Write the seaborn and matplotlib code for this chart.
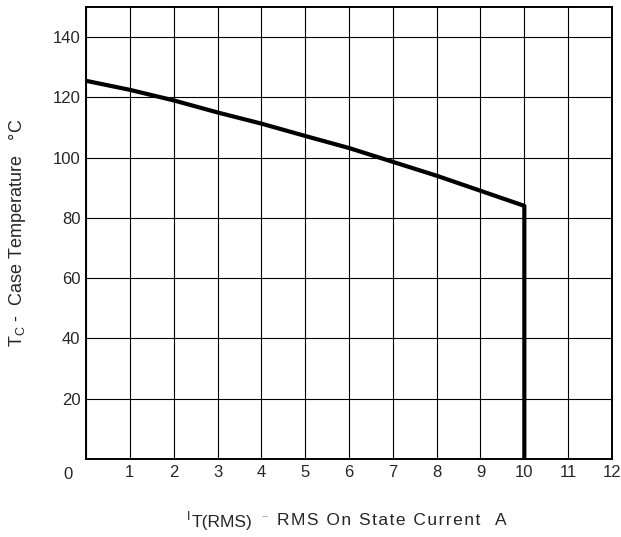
import matplotlib
matplotlib.use("Agg")
import matplotlib.pyplot as plt
import seaborn as sns
import pandas as pd

# curve (ends with the vertical drop at 10 A)
current = [0, 1, 2, 3, 4, 5, 6, 7, 8, 9, 10, 10]
case_temp = [125.5, 122.5, 119, 115, 111.3, 107.2, 103.2, 98.6, 94, 89, 84, 0]

x_ticks = list(range(1, 13))
y_ticks = [20, 40, 60, 80, 100, 120, 140]

df = pd.DataFrame({"I": current, "Tc": case_temp})

sns.set_style("white")
plt.rcParams["font.family"] = ["Liberation Sans", "DejaVu Sans"]

W, H = 621, 537


def spaced(s, gap="\u200a"):
    # slightly wider letter spacing like the printed datasheet
    return gap.join(s)


def px_text(x, y, s, **kw):
    # place a text by pixel position (from top-left) on the figure
    fig.text(x / W, 1 - y / H, s, ha="left", va="baseline", **kw)


fig = plt.figure(figsize=(W / 100, H / 100), dpi=100)
ax = fig.add_axes([0.1385, 0.1453, 0.847, 0.8417])

sns.lineplot(data=df, x="I", y="Tc", ax=ax, color="black", linewidth=3,
             estimator=None, sort=False)

ax.set_xlim(0, 12)
ax.set_ylim(0, 150)
ax.set_xticks(range(0, 13))
ax.set_xticklabels([""] + [str(v) for v in x_ticks])
ax.set_yticks([0] + y_ticks)
ax.set_yticklabels([""] + [str(v) for v in y_ticks])
ax.grid(True, color="black", linewidth=0.8)
ax.tick_params(length=0, labelsize=12, pad=4)
ax.text(-0.3, -2.5, "0", ha="right", va="top", fontsize=12)

for s in ax.spines.values():
    s.set_visible(True)
    s.set_color("black")
    s.set_linewidth(1.4)

# x label in pieces: small I, large T(RMS) subscript, faint dash, text
ax.set_xlabel("")
px_text(187, 520, "I", fontsize=9)
px_text(192, 527, "T(RMS)", fontsize=12.5)
px_text(262, 519, "--", fontsize=8, color="#999999")
px_text(277, 525, spaced("RMS On State Current"), fontsize=12.5)
px_text(495, 525, "A", fontsize=12.5)

ax.set_ylabel(r"$\mathregular{T_C}$" + " -  Case Temperature   °C", fontsize=13)
ax.yaxis.set_label_coords(-0.11, 0.5)

fig.savefig("out.png", dpi=100)
